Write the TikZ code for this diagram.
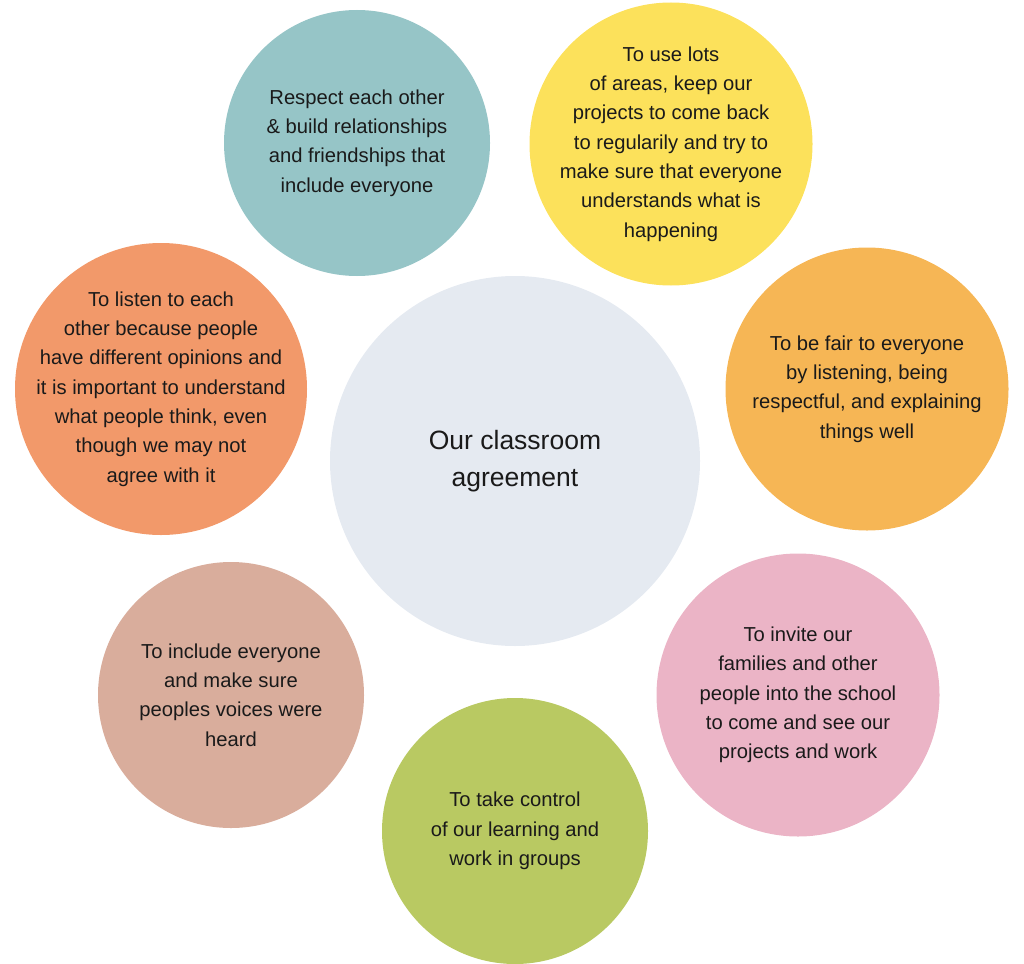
\documentclass[tikz,border=0pt]{standalone}
\usepackage{fontspec}
\setmainfont{Liberation Sans}
\usepackage{tikz}
\usetikzlibrary{shapes,positioning}

\definecolor{hubgray}{HTML}{E5EAF1}
\definecolor{tealc}{HTML}{96C5C7}
\definecolor{yellowc}{HTML}{FCE15B}
\definecolor{orangec}{HTML}{F6B655}
\definecolor{salmonc}{HTML}{F2996A}
\definecolor{tanc}{HTML}{D9AD9C}
\definecolor{pinkc}{HTML}{EBB4C6}
\definecolor{greenc}{HTML}{B9C962}
\definecolor{inkc}{HTML}{1A1A1A}

\begin{document}
\begin{tikzpicture}[x=1pt, y=-1pt]
		\tikzstyle{Bubble}	= [circle, inner sep=-100pt, align=center, text=inkc, font=\fontsize{20.2}{29.3}\selectfont]
		\tikzstyle{Small}	= [Bubble, minimum size=266pt]
		\tikzstyle{Big}		= [Bubble, minimum size=283pt]
		\tikzstyle{Huge}	= [Bubble, minimum size=292pt]
		\tikzstyle{Hub}		= [Bubble, fill=hubgray, minimum size=370pt, font=\fontsize{26.5}{37.5}\selectfont]
		
		\useasboundingbox (0,0) rectangle (1024,963);
		
		\node (hub) at (515, 461) [Hub] {Our classroom\\agreement};
		
		\node (respect) at (357, 143) [Small, fill=tealc] {Respect each other\\\& build relationships\\and friendships that\\include everyone};
		\node (areas) at (671, 144) [Big, fill=yellowc] {To use lots\\of areas, keep our\\projects to come back\\to regularily and try to\\make sure that everyone\\understands what is\\happening};
		\node (fair) at (867, 389) [Big, fill=orangec] {To be fair to everyone\\by listening, being\\respectful, and explaining\\things well};
		\node (invite) at (798, 695) [Big, fill=pinkc] {To invite our\\families and other\\people into the school\\to come and see our\\projects and work};
		\node (control) at (515, 831) [Small, fill=greenc] {To take control\\of our learning and\\work in groups};
		\node (voices) at (231, 695) [Small, fill=tanc] {To include everyone\\and make sure\\peoples voices were\\heard};
		\node (listen) at (161, 389) [Huge, fill=salmonc] {To listen to each\\other because people\\have different opinions and\\it is important to understand\\what people think, even\\though we may not\\agree with it};
\end{tikzpicture}
\end{document}
